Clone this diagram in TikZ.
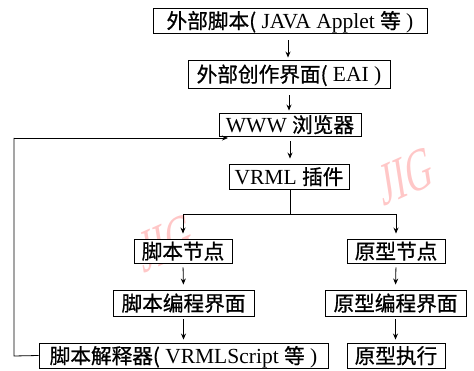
\documentclass[tikz,border=0pt]{standalone}
\usepackage{fontspec}
\setmainfont{Liberation Serif}
\newfontfamily\cjk[Scale=0.96,FakeBold=0.8]{Noto Sans CJK SC}
\usetikzlibrary{arrows.meta}
\tikzset{
  box/.style={draw=black, line width=0.9pt, fill=white, inner sep=0pt, anchor=center,
    text height=16pt, text depth=0pt, font=\fontsize{21.5}{24}\selectfont},
  arr/.style={-{Stealth[length=6pt,width=5pt]}, line width=0.8pt},
  ln/.style={line width=0.8pt},
  wm/.style={text=red!22, font=\fontsize{36}{36}\selectfont, yscale=1.7, rotate=15, inner sep=0pt}
}
\begin{document}
\begin{tikzpicture}[x=1pt,y=-1pt]
\useasboundingbox (0,0) rectangle (474,371);
% watermarks
\node[wm] (wm1) at (406,176) {JIG};
\node[wm] (wm2) at (166,243) {JIG};
% boxes
\node[box, minimum width=274pt, minimum height=25pt] (b1) at (290,20.5) {{\cjk 外部脚本(} JAVA Applet {\cjk 等} )};
\node[box, minimum width=202pt, minimum height=28pt] (b2) at (289,74) {{\cjk 外部创作界面(} EAI )};
\node[box, minimum width=142pt, minimum height=23pt] (b3) at (290,124.5) {WWW {\cjk 浏览器}};
\node[box, minimum width=120pt, minimum height=25pt] (b4) at (289,176.5) {VRML {\cjk 插件}};
\node[box, minimum width=98pt, minimum height=24pt] (b5) at (183,251) {\cjk 脚本节点};
\node[box, minimum width=98pt, minimum height=24pt] (b6) at (396,251) {\cjk 原型节点};
\node[box, minimum width=141pt, minimum height=26pt] (b7) at (183.5,303) {\cjk 脚本编程界面};
\node[box, minimum width=141pt, minimum height=26pt] (b8) at (395.5,303) {\cjk 原型编程界面};
\node[box, minimum width=289pt, minimum height=25pt] (b9) at (183.5,355.5) {{\cjk 脚本解释器(} VRMLScript {\cjk 等} )};
\node[box, minimum width=98pt, minimum height=25pt] (b10) at (396,355.5) {\cjk 原型执行};
% arrows
\draw[arr, shorten <=7pt, shorten >=2pt] (b1.south -| 288,0) -- (b2.north -| 288,0);
\draw[arr, shorten <=7pt, shorten >=2pt] (b2.south -| 289,0) -- (b3.north -| 289,0);
\draw[arr, shorten <=5pt, shorten >=5pt] (b3.south) -- (b4.north -| b3.south);
\coordinate (jn) at (290,214);
\coordinate (jl) at (183,214);
\coordinate (jr) at (396,214);
\draw[ln] (b4.south -| jn) -- (jn);
\draw[ln] (jl) -- (jr);
\draw[arr, shorten >=5pt] (jl) -- (b5.north);
\draw[arr, shorten >=5pt] (jr) -- (b6.north);
\draw[arr, shorten <=4pt, shorten >=5pt] (b5.south) -- (b7.north);
\draw[arr, shorten <=4pt, shorten >=5pt] (b6.south) -- (b8.north);
\draw[arr, shorten <=3pt, shorten >=3pt] (b7.south) -- (b9.north -| b7.south);
\draw[arr, shorten <=3pt, shorten >=3pt] (b8.south) -- (b10.north -| b8.south);
% feedback
\coordinate (fb1) at (14,356);
\coordinate (fb2) at (14,138);
\coordinate (fbend) at (228,138);
\draw[ln] (b9.west) -- (fb1) -- (fb2);
\draw[arr] (fb2) -- (fbend);
\end{tikzpicture}
\end{document}
